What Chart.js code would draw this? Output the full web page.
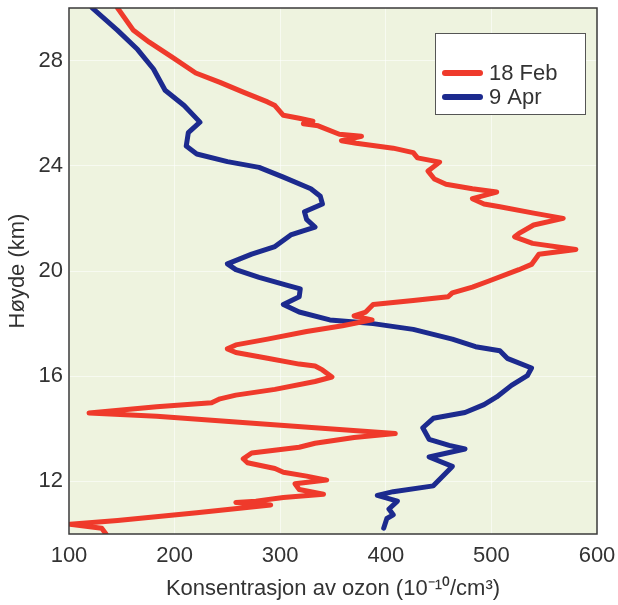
<!DOCTYPE html>
<html>
<head>
<meta charset="utf-8">
<script src="https://cdn.jsdelivr.net/npm/chart.js@4/dist/chart.umd.min.js"></script>
<style>
  html, body { margin: 0; padding: 0; background: #ffffff; }
  #wrap { width: 618px; height: 605px; position: relative; }
</style>
</head>
<body>
<div id="wrap"><canvas id="c" width="618" height="605"></canvas></div>
<script>
// ---- data ----
const seriesLabels = ["18 Feb", "9 Apr"];
const seriesColors = ["#ef3a2b", "#1c2a8e"];

const febConc = [146,161,176,198,220,243,265,288,295,303,318,331,322,336,356,377,358,372,407,426,430,451,440,446,457,482,505,482,493,508,540,568,540,527,522,539,580,545,538,526,497,482,463,459,426,388,381,370,387,359,325,288,258,250,258,288,318,333,340,349,333,295,258,243,235,183,119,183,258,333,409,370,333,318,273,265,269,295,303,325,344,314,318,341,303,277,258,291,221,146,101,131,135];
const febAlt  = [30.0,29.15,28.7,28.12,27.53,27.17,26.8,26.43,26.29,25.92,25.81,25.7,25.6,25.52,25.2,25.12,24.95,24.86,24.67,24.5,24.3,24.14,23.8,23.5,23.3,23.13,23.0,22.75,22.55,22.44,22.2,22.0,21.75,21.45,21.3,21.05,20.82,20.64,20.25,20.05,19.61,19.39,19.17,19.02,18.88,18.73,18.44,18.29,18.14,17.92,17.7,17.41,17.19,17.04,16.9,16.68,16.46,16.39,16.24,15.97,15.8,15.5,15.28,15.14,14.99,14.84,14.6,14.48,14.26,14.04,13.82,13.67,13.45,13.3,13.08,12.86,12.71,12.49,12.35,12.2,12.05,11.91,11.69,11.51,11.39,11.25,11.2,11.1,10.81,10.51,10.37,10.22,10.0];

const aprConc = [122,146,165,180,191,209,224,213,211,221,250,280,303,329,338,340,323,325,333,321,310,295,273,250,258,280,306,319,318,303,318,347,388,426,463,485,508,515,538,534,519,505,493,475,445,435,441,460,475,441,463,445,407,392,411,403,407,401,398];
const aprAlt  = [30.0,29.15,28.42,27.68,26.87,26.29,25.66,25.26,24.75,24.45,24.16,23.94,23.57,23.13,22.84,22.55,22.25,21.96,21.67,21.52,21.37,20.93,20.64,20.27,20.05,19.76,19.46,19.32,19.02,18.73,18.44,18.14,18.0,17.78,17.41,17.12,16.97,16.68,16.31,16.02,15.65,15.21,14.92,14.62,14.4,14.04,13.6,13.37,13.23,12.93,12.57,11.83,11.61,11.47,11.25,10.95,10.73,10.59,10.22];

const xTicks = [100, 200, 300, 400, 500, 600];
const yTicks = [12, 16, 20, 24, 28];
const xTitle = "Konsentrasjon av ozon (10\u207B\u00B9\u2070/cm\u00B3)";
const yTitle = "H\u00F8yde (km)";

// ---- build ----
const toPts = (xs, ys) => xs.map((v, i) => ({ x: v, y: ys[i] }));
const FONT = "'Liberation Sans', Arial, Helvetica, sans-serif";
const TXT = "#333333";

const bgPlugin = {
  id: 'bgFrameLegend',
  beforeDraw(chart) {
    const { ctx, chartArea: a } = chart;
    ctx.save();
    ctx.fillStyle = "#eef3df";
    ctx.fillRect(a.left, a.top, a.right - a.left, a.bottom - a.top);
    ctx.restore();
  },
  afterDraw(chart) {
    const { ctx, chartArea: a } = chart;
    ctx.save();
    // frame
    ctx.strokeStyle = "#3a3a3a";
    ctx.lineWidth = 1.5;
    ctx.strokeRect(a.left, a.top, a.right - a.left, a.bottom - a.top);
    // legend box
    const bx = 435, by = 33, bw = 150, bh = 81;
    ctx.fillStyle = "#ffffff";
    ctx.fillRect(bx, by, bw, bh);
    ctx.strokeStyle = "#555555";
    ctx.lineWidth = 1;
    ctx.strokeRect(bx + 0.5, by + 0.5, bw, bh);
    chart.data.datasets.forEach((ds, i) => {
      const y = 73 + i * 24;
      ctx.strokeStyle = ds.borderColor;
      ctx.lineWidth = 6;
      ctx.lineCap = 'round';
      ctx.beginPath();
      ctx.moveTo(445, y);
      ctx.lineTo(480, y);
      ctx.stroke();
      ctx.fillStyle = TXT;
      ctx.font = "22px " + FONT;
      ctx.textAlign = 'left';
      ctx.textBaseline = 'middle';
      ctx.fillText(ds.label, 489, y + 1);
    });
    ctx.restore();
  }
};

new Chart(document.getElementById('c'), {
  type: 'scatter',
  data: {
    datasets: [
      { label: seriesLabels[0], data: toPts(febConc, febAlt), borderColor: seriesColors[0], backgroundColor: seriesColors[0] },
      { label: seriesLabels[1], data: toPts(aprConc, aprAlt), borderColor: seriesColors[1], backgroundColor: seriesColors[1] }
    ].map(d => Object.assign(d, {
      showLine: true, pointRadius: 0, pointHoverRadius: 0, borderWidth: 5,
      borderJoinStyle: 'round', borderCapStyle: 'round', tension: 0, fill: false
    }))
  },
  options: {
    responsive: false,
    animation: false,
    devicePixelRatio: 1,
    layout: { padding: { top: 8, right: 21, left: 0, bottom: 0 } },
    plugins: { legend: { display: false }, tooltip: { enabled: false } },
    scales: {
      x: {
        type: 'linear', min: 100, max: 600,
        afterBuildTicks: s => { s.ticks = xTicks.map(v => ({ value: v })); },
        afterFit: s => { s.height = 71; s.paddingLeft = 0; s.paddingRight = 0; },
        grid: { color: 'rgba(255,255,255,0.55)', lineWidth: 1, drawTicks: false },
        border: { display: false },
        ticks: { padding: 9, color: TXT, font: { family: FONT, size: 22 }, maxRotation: 0 },
        title: { display: true, text: xTitle, color: TXT, font: { family: FONT, size: 22 }, padding: { top: 0, bottom: 3 } }
      },
      y: {
        type: 'linear', min: 10, max: 30,
        afterBuildTicks: s => { s.ticks = yTicks.map(v => ({ value: v })); },
        afterFit: s => { s.width = 69; s.paddingTop = 0; s.paddingBottom = 0; },
        grid: { color: 'rgba(255,255,255,0.55)', lineWidth: 1, drawTicks: false },
        border: { display: false },
        ticks: { padding: 6, color: TXT, font: { family: FONT, size: 22 } },
        title: { display: true, text: yTitle, color: TXT, font: { family: FONT, size: 22 }, padding: { top: 5, bottom: 0 } }
      }
    }
  },
  plugins: [bgPlugin]
});
</script>
</body>
</html>
